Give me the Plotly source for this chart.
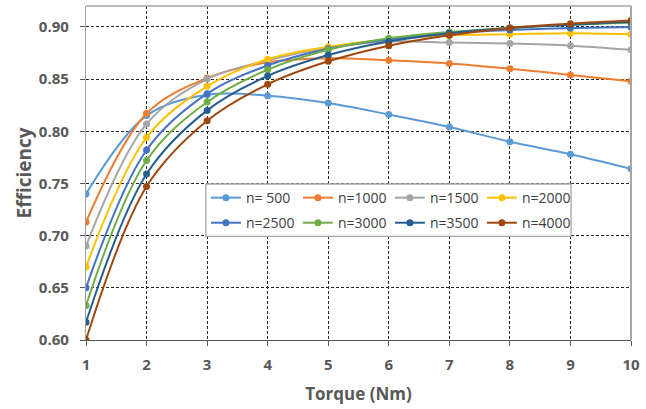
import plotly.graph_objects as go

# Torque sweep (Nm)
torque = [1, 2, 3, 4, 5, 6, 7, 8, 9, 10]

# Efficiency curves per speed (rpm)
eff_500 = [0.740, 0.815, 0.835, 0.834, 0.827, 0.816, 0.804, 0.790, 0.778, 0.764]
eff_1000 = [0.713, 0.817, 0.851, 0.866, 0.870, 0.868, 0.865, 0.860, 0.854, 0.848]
eff_1500 = [0.690, 0.807, 0.850, 0.868, 0.880, 0.886, 0.885, 0.884, 0.882, 0.878]
eff_2000 = [0.670, 0.794, 0.843, 0.869, 0.881, 0.888, 0.892, 0.893, 0.894, 0.893]
eff_2500 = [0.650, 0.782, 0.836, 0.863, 0.879, 0.888, 0.894, 0.897, 0.899, 0.900]
eff_3000 = [0.633, 0.772, 0.828, 0.859, 0.878, 0.889, 0.895, 0.899, 0.902, 0.904]
eff_3500 = [0.617, 0.759, 0.820, 0.853, 0.873, 0.886, 0.894, 0.899, 0.902, 0.905]
eff_4000 = [0.600, 0.747, 0.810, 0.845, 0.867, 0.882, 0.892, 0.899, 0.903, 0.906]

series_names = ["n= 500", "n=1000", "n=1500", "n=2000",
                "n=2500", "n=3000", "n=3500", "n=4000"]
series_values = [eff_500, eff_1000, eff_1500, eff_2000,
                 eff_2500, eff_3000, eff_3500, eff_4000]
series_colors = ["#5B9BD5", "#ED7D31", "#A5A5A5", "#FFC000",
                 "#4472C4", "#70AD47", "#255E91", "#9E480E"]

y_ticks = [0.60, 0.65, 0.70, 0.75, 0.80, 0.85, 0.90]

fig = go.Figure()
for i, (name, vals, col) in enumerate(zip(series_names, series_values, series_colors)):
    fig.add_trace(go.Scatter(
        x=torque, y=vals, name=name, mode="lines+markers",
        line=dict(color=col, width=2, shape="spline", smoothing=1.0),
        marker=dict(color=col, size=7),
        # first four speeds on the top legend row, the rest on the second row
        legend="legend" if i < 4 else "legend2",
    ))

tick_font = dict(family="Open Sans", size=15, color="#595959", weight="bold")
title_font = dict(family="Open Sans", size=17, color="#595959", weight="bold")
legend_font = dict(family="Open Sans", size=14, color="#404040")

row_common = dict(
    orientation="h", xanchor="left", yanchor="middle",
    bgcolor="rgba(0,0,0,0)", borderwidth=0,
    font=legend_font, entrywidth=47, entrywidthmode="pixels",
    itemwidth=30, traceorder="normal",
)

fig.update_layout(
    width=646, height=409,
    margin=dict(l=86, r=10, t=6, b=69),
    paper_bgcolor="white", plot_bgcolor="white",
    font=dict(family="Open Sans", color="#404040"),
    showlegend=True,
    legend=dict(x=0.220, y=0.425, **row_common),
    legend2=dict(x=0.220, y=0.350, **row_common),
    xaxis=dict(
        range=[1, 10], tickvals=torque, ticktext=[str(t) for t in torque],
        tickfont=tick_font, ticklabelstandoff=6,
        showgrid=True, gridcolor="#262626", griddash="3px,2px", gridwidth=1,
        showline=True, linecolor="#595959", linewidth=1.3,
        ticks="outside", ticklen=5, tickcolor="#595959",
        zeroline=False,
        title=dict(text="Torque (Nm)", standoff=14, font=title_font),
    ),
    yaxis=dict(
        range=[0.60, 0.92], tickvals=y_ticks,
        ticktext=[f"{v:.2f}" for v in y_ticks],
        tickfont=tick_font, ticklabelstandoff=8,
        showgrid=True, gridcolor="#262626", griddash="3px,2px", gridwidth=1,
        showline=True, linecolor="#A0A0A0", linewidth=1.3,
        ticks="outside", ticklen=5, tickcolor="#595959",
        zeroline=False,
        title=dict(text="Efficiency", standoff=2,
                   font=dict(family="Open Sans", size=19, color="#595959", weight="bold")),
    ),
)

# Legend box: white panel with a grey border behind both legend rows
fig.add_shape(type="rect", xref="paper", yref="paper",
              x0=0.22, x1=0.89, y0=0.31, y1=0.467,
              fillcolor="white", line=dict(color="#A6A6A6", width=1.3), layer="above")

# Plot-area frame along the top and right edges
fig.add_shape(type="line", xref="paper", yref="paper", x0=0, x1=1, y0=1, y1=1,
              line=dict(color="#A6A6A6", width=1.3), layer="above")
fig.add_shape(type="line", xref="paper", yref="paper", x0=1, x1=1, y0=0, y1=1,
              line=dict(color="#A6A6A6", width=2), layer="above")

fig.write_html("out.html")
